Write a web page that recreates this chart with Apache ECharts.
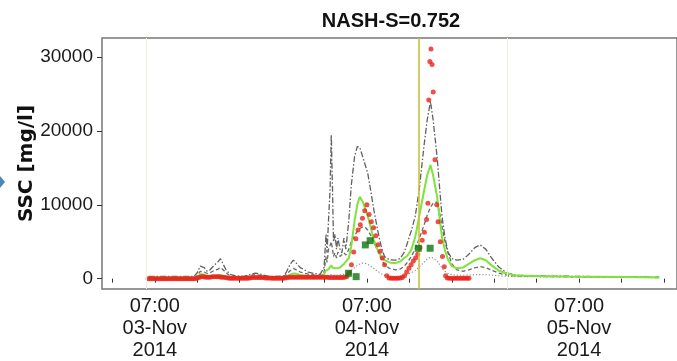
<!DOCTYPE html>
<html>
<head>
<meta charset="utf-8">
<title>NASH-S=0.752</title>
<script src="https://cdn.jsdelivr.net/npm/echarts@6.0.0/dist/echarts.min.js"></script>
<style>
  html, body { margin: 0; padding: 0; background: #fff; }
  #chart { width: 677px; height: 361px; }
</style>
</head>
<body>
<div id="chart"></div>
<script>
// hours since 2014-11-03 00:00
var hours = [
  6.30,11.46,11.80,12.14,12.36,12.59,12.93,13.26,13.71,14.16,
  14.44,14.72,15.06,15.50,16.06,17.07,17.86,18.42,18.98,19.87,
  21.56,21.89,22.34,22.68,23.01,23.46,23.91,24.36,25.03,25.71,
  26.15,26.38,26.49,26.66,26.83,26.97,27.11,27.22,27.39,27.56,
  27.72,27.95,28.17,28.40,28.62,28.96,29.22,29.60,29.91,30.19,
  30.53,30.86,31.09,31.42,31.76,32.21,32.65,32.99,33.55,34.22,
  34.78,35.23,35.57,36.02,36.46,36.91,37.45,37.82,38.19,38.49,
  38.94,39.28,39.50,39.84,40.17,40.62,41.18,41.86,42.53,43.20,
  43.80,44.44,45.11,45.89,46.79,47.91,50.15,53.52,56.88,60.25,
  64.06
];
// simulated SSC band (mg/l)
var sscUpper = [
  300,300,800,1700,1950,1500,1000,1200,1800,2300,
  2700,2000,1200,600,400,300,600,750,600,300,
  350,900,2000,2500,2100,1500,1200,900,700,600,
  1500,6000,3500,8000,12000,19500,12000,5000,6000,4000,
  5500,4000,3500,5500,4000,8000,12500,16500,17900,17800,
  16500,15200,14300,12000,9500,6600,4200,3000,2550,2500,
  2750,3600,4800,6500,8400,12000,17900,21500,24000,21500,
  16500,11500,8400,5500,3600,2700,2500,2600,3300,4200,
  4570,4000,2800,1600,800,450,380,330,280,250,
  200
];
var sscMedian = [
  150,150,250,600,800,550,350,350,400,450,
  500,400,300,220,180,160,200,250,220,170,
  180,300,550,700,650,500,420,380,330,330,
  600,1100,1000,1300,1500,1800,1500,1300,1400,1350,
  1450,1500,1700,2000,2300,2800,4300,7800,10000,11100,
  10400,9300,8500,7000,5300,3900,2900,2500,2200,2100,
  2350,2800,3100,3900,5600,8400,11800,14000,15400,14000,
  11100,7600,5600,3800,2600,1700,1400,1500,2000,2500,
  2760,2500,1800,1100,700,420,350,300,260,220,
  170
];
var sscMid = [
  150,150,400,1000,1200,900,700,800,1100,1300,
  1500,1200,800,400,250,200,450,550,450,250,
  250,600,1100,1400,1200,900,750,600,500,450,
  900,3000,2200,4000,4500,5000,4000,3000,3500,2800,
  3600,3000,2800,3500,3200,4000,5000,5800,6400,6800,
  7000,6900,6600,5900,5000,3800,2600,1900,1400,1200,
  1300,1700,2200,3000,4000,5400,7200,8600,9700,10200,
  10400,8600,7000,5000,3500,2000,1200,1000,1200,1450,
  1630,1500,1150,750,500,350,300,260,230,200,
  160
];
var sscLower = [
  80,80,100,150,200,180,150,150,180,200,
  220,200,150,120,100,90,100,120,110,90,
  100,150,200,250,230,200,180,170,160,160,
  250,400,350,450,500,550,500,450,480,460,
  500,520,550,600,650,800,1100,1500,1800,2000,
  2100,2050,1950,1700,1400,1000,650,450,320,270,
  300,400,550,800,1100,1600,2200,2650,2900,2800,
  2400,1800,1400,1000,700,550,480,460,480,520,
  560,540,480,400,330,280,260,230,200,180,
  150
];
// turbidity-derived SSC
var obsHours = [
  6.25,6.5,6.75,7,7.25,7.5,7.75,8,8.25,8.5,
  8.75,9,9.25,9.5,9.75,10,10.25,10.5,10.75,11,
  11.25,11.5,11.75,12,12.25,12.5,12.75,13,13.25,13.5,
  13.75,14,14.25,14.5,14.75,15,15.25,15.5,15.75,16,
  16.25,16.5,16.75,17,17.25,17.5,17.75,18,18.25,18.5,
  18.75,19,19.25,19.5,19.75,20,20.25,20.5,20.75,21,
  21.25,21.5,21.75,22,22.25,22.5,22.75,23,23.25,23.5,
  23.75,24,24.25,24.5,24.75,25,25.25,25.5,25.75,26,
  26.25,26.5,26.75,27,27.25,27.5,27.75,28,28.25,28.5,
  28.75,29,29.25,29.5,29.75,30,30.25,30.5,30.75,31,
  31.25,31.5,31.75,32,32.25,32.5,32.75,33,33.25,33.5,
  33.75,34,34.25,34.5,34.75,35,35.25,35.5,35.75,36,
  36.25,36.5,36.75,37,37.25,37.5,37.75,37.9,38,38.12,
  38.25,38.37,38.5,38.7,38.9,39.05,39.3,39.55,39.75,39.9,
  40.1,40.35,40.6,40.85,41.1,41.35,41.6,41.85,42.1,42.35,
  42.55
];
var obsSsc = [
  0,0,0,0,0,0,0,0,0,0,
  0,0,0,0,0,0,0,0,0,0,
  0,0,50,150,250,250,200,200,200,250,
  250,250,250,200,200,150,100,50,50,50,
  50,50,50,50,50,50,100,150,150,150,
  150,150,150,100,100,100,50,50,50,50,
  50,50,100,150,200,200,200,200,200,200,
  200,200,200,200,200,200,200,200,200,200,
  200,200,150,150,150,150,150,150,150,200,
  300,800,1900,3600,5400,6600,7300,8200,9200,10000,
  8700,7700,6900,5800,4600,3700,2800,1900,400,100,
  50,50,50,50,100,150,400,900,1400,1900,
  2400,2800,3300,4200,5200,6300,8000,10200,24200,29400,
  31100,29000,25300,16100,10000,7700,5000,3000,1600,400,
  100,50,50,50,50,50,50,50,50,50,
  50
];
// bottle samples
var sampleHours = [28.92, 29.78, 30.82, 31.37, 36.81, 38.15];
var sampleSsc = [730, 270, 4570, 5150, 4120, 4120];

var xTicks = [2.2, 7, 11.8, 16.6, 21.4, 26.2, 31, 35.8, 40.6, 45.4, 50.2, 55, 59.8, 64.6];
var xLabels = [7, 31, 55];
var yTicks = [0, 10000, 20000, 30000];
var eventLines = [6.08, 46.9];
var nowLine = 36.87;

function pairs(xs, ys) {
  return xs.map(function (x, i) { return [x, ys[i]]; });
}
function pad(n) { return (n < 10 ? '0' : '') + n; }
function dateLabel(h) {
  var d = Math.floor(h / 24);
  var hr = Math.round(h - d * 24);
  return pad(hr) + ':00\n' + pad(3 + d) + '-Nov\n2014';
}

var chart = echarts.init(document.getElementById('chart'));

function greyLine(name, data, color, dash, width) {
  return {
    name: name, type: 'line', data: data, showSymbol: false, silent: true,
    lineStyle: { color: color, width: width, type: dash }, z: 2
  };
}

var option = {
  animation: false,
  title: {
    text: 'NASH-S=0.752', left: 386, top: 6, textAlign: 'center',
    textStyle: { fontFamily: 'Liberation Sans', fontWeight: 'bold', fontSize: 20, color: '#111' }
  },
  graphic: [{
    type: 'polygon', shape: { points: [[0, 176], [5, 182], [0, 188]] },
    style: { fill: '#4d87b8' }
  }],
  grid: { left: 102, top: 38, width: 580, height: 251, show: true, borderColor: '#777', borderWidth: 1.5 },
  xAxis: {
    type: 'value', min: 1.03, max: 66.08,
    axisLine: { show: false }, splitLine: { show: false },
    axisTick: { show: true, customValues: xTicks, length: 4, lineStyle: { color: '#333' } },
    axisLabel: {
      customValues: xLabels, formatter: dateLabel, margin: 6,
      fontFamily: 'Liberation Sans', fontSize: 20, lineHeight: 22, color: '#1a1a1a'
    }
  },
  yAxis: {
    type: 'value', min: -1400, max: 32600,
    name: 'SSC [mg/l]', nameLocation: 'middle', nameGap: 65, nameMoveOverlap: false,
    nameTextStyle: { fontFamily: 'DejaVu Sans', fontWeight: 'bold', fontSize: 20, color: '#111' },
    axisLine: { show: false }, splitLine: { show: false },
    axisTick: { show: true, customValues: yTicks, length: 5, lineStyle: { color: '#333' } },
    axisLabel: {
      customValues: yTicks, margin: 9, formatter: function (v) { return String(v); },
      fontFamily: 'Liberation Sans', fontSize: 19, color: '#1a1a1a'
    }
  },
  series: [
    {
      type: 'line', data: [], silent: true,
      markLine: {
        silent: true, symbol: ['none', 'none'], label: { show: false },
        data: [
          { xAxis: eventLines[0], lineStyle: { color: '#efeedb', width: 1, type: 'solid' } },
          { xAxis: eventLines[1], lineStyle: { color: '#efeedb', width: 1, type: 'solid' } },
          { xAxis: nowLine, lineStyle: { color: '#c9c23a', width: 1.6, type: 'solid' } }
        ]
      }
    },
    greyLine('lower', pairs(hours, sscLower), '#909090', [1.2, 2], 1.2),
    greyLine('mid', pairs(hours, sscMid), '#6a6a6a', [4, 2.5], 1.3),
    greyLine('upper', pairs(hours, sscUpper), '#606060', [6, 2, 1.5, 2], 1.3),
    {
      name: 'median', type: 'line', data: pairs(hours, sscMedian), showSymbol: false, silent: true,
      lineStyle: { color: '#7fe33a', width: 2 }, z: 3
    },
    {
      name: 'turbidity', type: 'scatter', data: pairs(obsHours, obsSsc), silent: true,
      symbol: 'circle', symbolSize: 5, itemStyle: { color: '#e8231b' }, z: 4
    },
    {
      name: 'samples', type: 'scatter', data: pairs(sampleHours, sampleSsc), silent: true,
      symbol: 'rect', symbolSize: 7, itemStyle: { color: '#0b760f' }, z: 5
    }
  ]
};
chart.setOption(option);
</script>
</body>
</html>
